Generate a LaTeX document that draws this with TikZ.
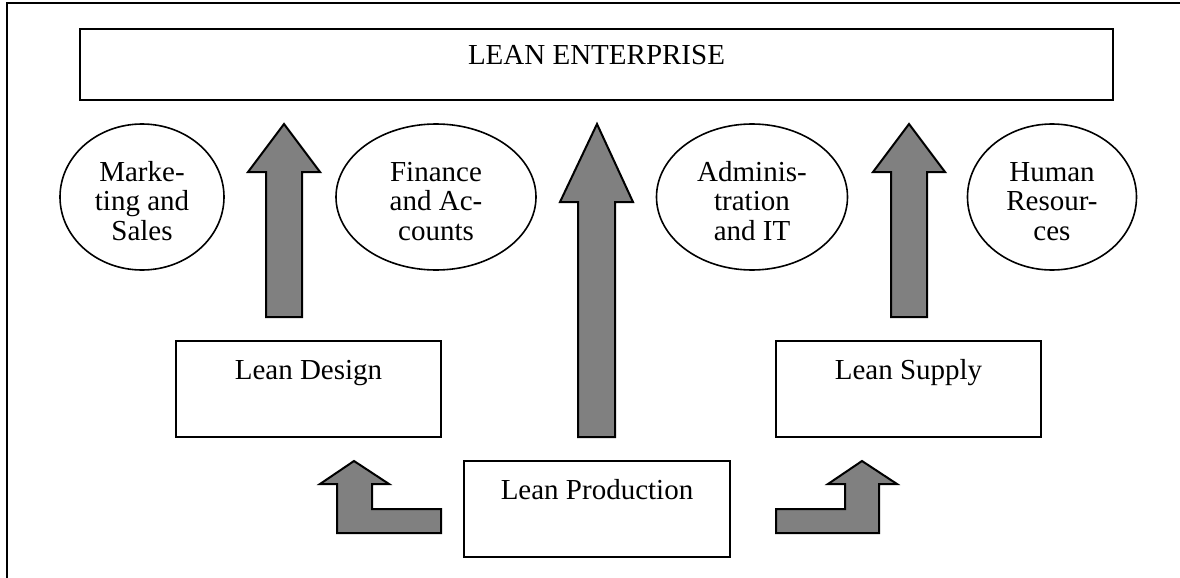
\documentclass[tikz,border=0pt]{standalone}
\usepackage{fontspec}
\setmainfont{Liberation Serif}
\usetikzlibrary{shapes.geometric}

\begin{document}
\begin{tikzpicture}[x=0.5pt,y=-0.5pt,
  font=\fontsize{14.5}{14.6}\selectfont,
  leanbox/.style={draw,line width=1pt,inner sep=0pt,align=center,
    text height=19pt,text depth=29pt},
  dept/.style={draw,ellipse,line width=0.8pt,inner sep=0pt,align=center,
    minimum height=73pt,text height=45pt,text depth=2pt},
  bigarrow/.style={draw,fill=gray,line width=1pt,line join=miter}]
\useasboundingbox (0,0) rectangle (1180,578);
\draw [line width=1pt] (7,578) -- (7,3) -- (1180,3) ;
% boxes
\node [leanbox,minimum width=516.5pt,text height=17.5pt,text depth=18pt]
  (enterprise) at (596.5,64.5) {LEAN ENTERPRISE};
\node [leanbox,minimum width=132.5pt] (design) at (308.5,389) {Lean Design};
\node [leanbox,minimum width=132.5pt] (supply) at (908.5,389) {Lean Supply};
\node [leanbox,minimum width=133pt] (production) at (597,509) {Lean Production};
% departments
\node [dept,minimum width=82pt] (marketing) at (142,197) {Marke-\\ting and\\Sales};
\node [dept,minimum width=100pt] (finance) at (436,197) {Finance\\and Ac-\\counts};
\node [dept,minimum width=95.5pt] (admin) at (752,197) {Adminis-\\tration\\and IT};
\node [dept,minimum width=84.5pt] (human) at (1052,197) {Human\\Resour-\\ces};
% arrows
\draw [bigarrow] (266,317) -- (266,172) -- (248,172) -- (284,124)
  -- (320,172) -- (302,172) -- (302,317) -- cycle ;
\draw [bigarrow] (578,437) -- (578,202) -- (560,202) -- (597,124)
  -- (633,202) -- (615,202) -- (615,437) -- cycle ;
\draw [bigarrow] (891,317) -- (891,172) -- (873,172) -- (909,124)
  -- (945,172) -- (927,172) -- (927,317) -- cycle ;
\draw [bigarrow] (441,509) -- (372,509) -- (372,484) -- (389,484) -- (354,461)
  -- (320,484) -- (337,484) -- (337,533) -- (441,533) -- cycle ;
\draw [bigarrow] (776,509) -- (845,509) -- (845,484) -- (828,484) -- (862,461)
  -- (897,484) -- (879,484) -- (879,533) -- (776,533) -- cycle ;
\end{tikzpicture}
\end{document}
